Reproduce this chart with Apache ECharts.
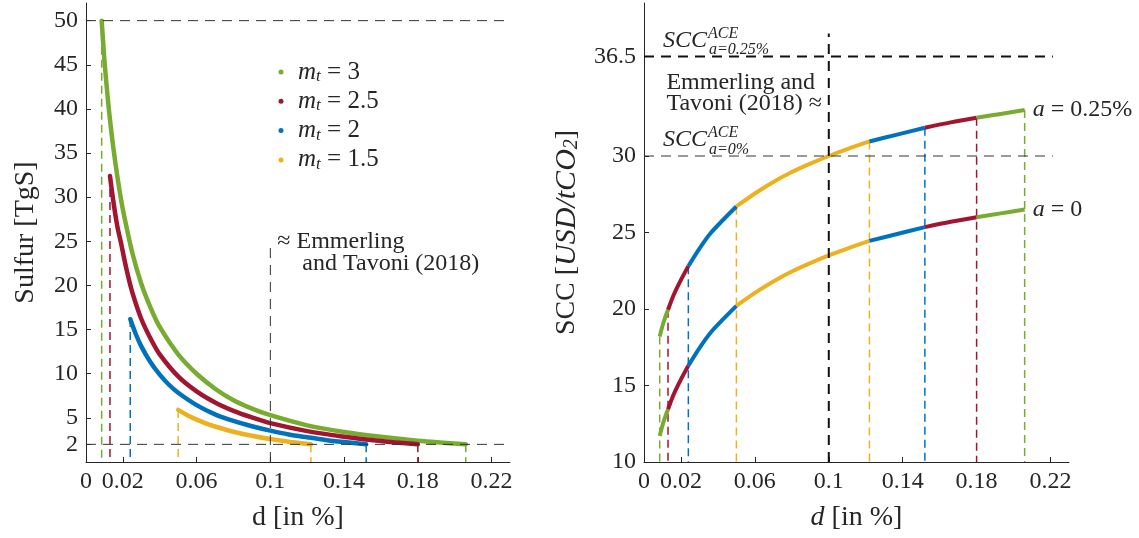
<!DOCTYPE html>
<html>
<head>
<meta charset="utf-8">
<script src="https://cdn.jsdelivr.net/npm/echarts@6/dist/echarts.min.js"></script>
<style>
  html, body { margin: 0; padding: 0; background: #ffffff; }
  #chart { width: 1139px; height: 538px; }
</style>
</head>
<body>
<div id="chart"></div>
<script>
// ---- data -------------------------------------------------------------
// Sulfur injection paths [d in %, Sulfur in TgS], one per m_t
const mtValues = ['3', '2.5', '2', '1.5'];
const sulfurMt3 = [[0.0085, 50], [0.010, 45.5], [0.012, 40.8], [0.014, 37.0], [0.016, 33.8], [0.018, 31.0],
  [0.020, 28.6], [0.025, 23.8], [0.030, 20.2], [0.035, 17.5], [0.040, 15.3], [0.050, 12.2], [0.060, 10.0],
  [0.070, 8.3], [0.080, 7.0], [0.090, 6.05], [0.100, 5.3], [0.120, 4.15], [0.140, 3.4], [0.160, 2.85],
  [0.180, 2.4], [0.206, 2.0]];
const sulfurMt25 = [[0.013, 32.4], [0.015, 29.3], [0.017, 26.7], [0.019, 24.8], [0.022, 21.8], [0.025, 19.3],
  [0.030, 16.2], [0.035, 14.0], [0.040, 12.2], [0.050, 9.7], [0.060, 8.0], [0.070, 6.75], [0.080, 5.8],
  [0.090, 5.05], [0.100, 4.4], [0.120, 3.5], [0.140, 2.87], [0.160, 2.38], [0.180, 2.0]];
const sulfurMt2 = [[0.024, 16.2], [0.027, 14.5], [0.030, 13.1], [0.035, 11.3], [0.040, 9.9], [0.045, 8.75],
  [0.050, 7.85], [0.060, 6.45], [0.070, 5.4], [0.080, 4.65], [0.090, 4.05], [0.100, 3.55], [0.110, 3.12],
  [0.120, 2.8], [0.130, 2.5], [0.140, 2.26], [0.152, 2.0]];
const sulfurMt15 = [[0.050, 5.9], [0.055, 5.3], [0.060, 4.8], [0.065, 4.38], [0.070, 4.02], [0.080, 3.43],
  [0.090, 2.97], [0.100, 2.6], [0.110, 2.3], [0.122, 2.0]];

// Social cost of carbon [d in %, USD/tCO2] for a = 0.25% and a = 0
const sccA025 = [[0.0085, 18.2], [0.0105, 19.1], [0.013, 19.95], [0.016, 20.9], [0.020, 21.9], [0.024, 22.8],
  [0.030, 23.95], [0.036, 24.95], [0.043, 25.85], [0.050, 26.7], [0.060, 27.55], [0.070, 28.3], [0.080, 28.95],
  [0.090, 29.5], [0.100, 30.0], [0.110, 30.45], [0.122, 30.95], [0.137, 31.4], [0.152, 31.85], [0.166, 32.2],
  [0.180, 32.5], [0.193, 32.75], [0.206, 33.0]];
const sccA0 = [[0.0085, 11.7], [0.0105, 12.6], [0.013, 13.45], [0.016, 14.4], [0.020, 15.4], [0.024, 16.3],
  [0.030, 17.45], [0.036, 18.45], [0.043, 19.35], [0.050, 20.2], [0.060, 21.05], [0.070, 21.8], [0.080, 22.45],
  [0.090, 23.0], [0.100, 23.5], [0.110, 23.95], [0.122, 24.45], [0.137, 24.9], [0.152, 25.35], [0.166, 25.7],
  [0.180, 26.0], [0.193, 26.25], [0.206, 26.5]];

// d ranges over which each m_t regime applies along the SCC curves
const regimeBreaks = [0.0085, 0.013, 0.024, 0.05, 0.122, 0.152, 0.18, 0.206];
const regimeMt = ['3', '2.5', '2', '1.5', '2', '2.5', '3'];

// reference levels
const sulfurLimits = [2, 50];
const sccAce = { a0: 30, a025: 36.5 };
const etDiscount = 0.1;          // Emmerling and Tavoni (2018)
const etSulfurTop = 24.5;
const etSccTop = 38;
const refLineEnd = 0.2213;

// ticks
const dTicks = [0, 0.02, 0.06, 0.1, 0.14, 0.18, 0.22];
const sulfurTicks = [2, 5, 10, 15, 20, 25, 30, 35, 40, 45, 50];
const sccTicks = [10, 15, 20, 25, 30, 36.5];

// ---- styling ----------------------------------------------------------
const SERIF = '"Liberation Serif", "DejaVu Serif", serif';
const INK = '#262626';
const mtColor = { '3': '#77AC30', '2.5': '#A2142F', '2': '#0072BD', '1.5': '#EDB120' };
const sulfurPaths = { '3': sulfurMt3, '2.5': sulfurMt25, '2': sulfurMt2, '1.5': sulfurMt15 };
const TICK_FONT = 24, NAME_FONT = 28;

function dAxis(gridIndex, italicD) {
  return {
    type: 'value', gridIndex, min: 0, max: 0.23,
    name: italicD ? '{i|d} [in %]' : 'd [in %]',
    nameLocation: 'middle', nameGap: 42,
    nameTextStyle: {
      fontFamily: SERIF, fontSize: NAME_FONT, color: INK,
      rich: { i: { fontFamily: SERIF, fontSize: NAME_FONT, fontStyle: 'italic', color: INK } }
    },
    axisLine: { show: true, onZero: false, lineStyle: { color: INK, width: 1 } },
    axisTick: { show: true, inside: true, length: 5, customValues: dTicks, lineStyle: { color: INK } },
    axisLabel: { customValues: dTicks, fontFamily: SERIF, fontSize: TICK_FONT, color: INK, margin: 8,
      formatter: v => String(v) },
    splitLine: { show: false }
  };
}

function valueAxis(gridIndex, min, max, ticks, name, nameGap, rich) {
  return {
    type: 'value', gridIndex, min, max,
    name, nameLocation: 'middle', nameGap,
    nameTextStyle: { fontFamily: SERIF, fontSize: NAME_FONT, color: INK, rich },
    axisLine: { show: true, onZero: false, lineStyle: { color: INK, width: 1 } },
    axisTick: { show: true, inside: true, length: 5, customValues: ticks, lineStyle: { color: INK } },
    axisLabel: { customValues: ticks, fontFamily: SERIF, fontSize: TICK_FONT, color: INK, margin: 8,
      formatter: v => String(v) },
    splitLine: { show: false }
  };
}

function segment(grid, data, color, width, dash, z, extra) {
  return Object.assign({
    type: 'line', xAxisIndex: grid, yAxisIndex: grid, data,
    symbol: 'none', silent: true, animation: false, z,
    lineStyle: { color, width, type: dash || 'solid', cap: 'butt' }
  }, extra || {});
}

const series = [];

// left: colored drop lines at the start and end of each path
mtValues.forEach(mt => {
  const p = sulfurPaths[mt];
  const first = p[0], last = p[p.length - 1];
  series.push(segment(0, [[first[0], first[1]], [first[0], 0]], mtColor[mt], 1.5, [8, 5], 1));
  series.push(segment(0, [[last[0], last[1]], [last[0], 0]], mtColor[mt], 1.5, [8, 5], 1));
});

// left: sulfur paths
mtValues.forEach(mt => {
  series.push(segment(0, sulfurPaths[mt], mtColor[mt], 4.5, 'solid', 3, {
    name: 'm_t = ' + mt, smooth: 0.3,
    lineStyle: { color: mtColor[mt], width: 4.5, cap: 'round', join: 'round' }, itemStyle: { color: mtColor[mt] }
  }));
});

// left: reference lines
series.push(segment(0, [[0, sulfurLimits[1]], [0.23, sulfurLimits[1]]], '#333333', 1, [10, 7], 5));
series.push(segment(0, [[0, sulfurLimits[0]], [0.23, sulfurLimits[0]]], '#333333', 1, [10, 7], 5));
series.push(segment(0, [[etDiscount, 0], [etDiscount, etSulfurTop]], '#333333', 1, [10, 7], 5));

// right: colored drop lines at each regime boundary
const dropColors = ['3', '2.5', '2', '1.5', '1.5', '2', '2.5', '3'];
regimeBreaks.forEach((d, i) => {
  const top = sccA025.find(p => p[0] === d)[1];
  series.push(segment(1, [[d, top], [d, 10]], mtColor[dropColors[i]], 1.5, [8, 5], 1));
});

// right: SCC curves split by regime
function addRegimeSegments(curve, label) {
  for (let i = 0; i < regimeMt.length; i++) {
    const lo = regimeBreaks[i], hi = regimeBreaks[i + 1];
    const pts = curve.filter(p => p[0] >= lo && p[0] <= hi);
    const color = mtColor[regimeMt[i]];
    const extra = { smooth: 0.3 };
    if (i === regimeMt.length - 1) {
      extra.endLabel = {
        show: true, distance: 8, formatter: label, color: INK,
        rich: {
          i: { fontFamily: SERIF, fontSize: 24, fontStyle: 'italic', color: INK },
          r: { fontFamily: SERIF, fontSize: 24, color: INK }
        }
      };
    }
    series.push(segment(1, pts, color, 4, 'solid', 3, extra));
  }
}
addRegimeSegments(sccA025, '{i|a}{r| = 0.25%}');
addRegimeSegments(sccA0, '{i|a}{r| = 0}');

// right: reference lines
series.push(segment(1, [[0, sccAce.a025], [refLineEnd, sccAce.a025]], '#111111', 2, [10, 7], 5));
series.push(segment(1, [[0, sccAce.a0], [refLineEnd, sccAce.a0]], '#333333', 1, [10, 7], 5));
series.push(segment(1, [[etDiscount, 10], [etDiscount, etSccTop]], '#111111', 2, [10, 7], 5));

const legendRich = {
  g: { width: 9.5 },
  m: { fontFamily: SERIF, fontSize: 25, fontStyle: 'italic', color: INK, lineHeight: 26, verticalAlign: 'middle' },
  t: { fontFamily: SERIF, fontSize: 17, fontStyle: 'italic', color: INK, lineHeight: 14, verticalAlign: 'bottom' },
  r: { fontFamily: SERIF, fontSize: 25, color: INK, lineHeight: 26, verticalAlign: 'middle' }
};

const option = {
  animation: false,
  backgroundColor: '#ffffff',
  grid: [
    { left: 86, right: 629, top: 3, bottom: 76 },
    { left: 644, right: 70, top: 3, bottom: 76 }
  ],
  xAxis: [dAxis(0, false), dAxis(1, true)],
  yAxis: [
    valueAxis(0, 0, 52, sulfurTicks, 'Sulfur [TgS]', 46, {}),
    valueAxis(1, 10, 40, sccTicks, 'SCC [{i|USD/tCO}{s|2}]', 62, {
      i: { fontFamily: SERIF, fontSize: 30, fontStyle: 'italic', color: INK, lineHeight: 30, verticalAlign: 'middle' },
      s: { fontFamily: SERIF, fontSize: 20, fontStyle: 'italic', color: INK, lineHeight: 16, verticalAlign: 'bottom' }
    })
  ],
  legend: {
    orient: 'vertical', left: 278.5, top: 59.5, padding: 0,
    itemWidth: 5, itemHeight: 5, itemGap: 3.8, icon: 'circle',
    data: mtValues.map(mt => 'm_t = ' + mt),
    formatter: name => '{g|}{m|m}{t|t}{r| = ' + name.split('= ')[1] + '}',
    textStyle: { rich: legendRich }
  },
  series
};

const chart = echarts.init(document.getElementById('chart'), null, { renderer: 'canvas' });
chart.setOption(option);

// ---- text annotations anchored to data coordinates --------------------
function txt(x, y, text, size, italic, align) {
  return {
    type: 'text', x, y, silent: true, z: 10,
    style: {
      text, fill: INK, fontFamily: SERIF, fontSize: size, fontStyle: italic ? 'italic' : 'normal',
      textAlign: align || 'left', textVerticalAlign: 'middle', align: align || 'left', verticalAlign: 'middle'
    }
  };
}
const etLeft = chart.convertToPixel({ gridIndex: 0 }, [etDiscount, etSulfurTop]);
const aceHi = chart.convertToPixel({ gridIndex: 1 }, [0, sccAce.a025]);
const aceLo = chart.convertToPixel({ gridIndex: 1 }, [0, sccAce.a0]);

const graphic = [
  txt(etLeft[0] + 7, etLeft[1] - 4, '\u2248 Emmerling', 24, false),
  txt(etLeft[0] + 32, etLeft[1] + 17.5, 'and Tavoni (2018)', 24, false),

  txt(aceHi[0] + 19, aceHi[1] - 15.5, 'SCC', 24, true),
  txt(aceHi[0] + 64, aceHi[1] - 23, 'ACE', 16, true),
  txt(aceHi[0] + 65, aceHi[1] - 7, 'a=0.25%', 16, true),
  txt(aceHi[0] + 22.4, aceHi[1] + 25.7, 'Emmerling and', 24, false),
  txt(aceHi[0] + 22.4, aceHi[1] + 47, 'Tavoni (2018) \u2248', 24, false),

  txt(aceLo[0] + 19, aceLo[1] - 16.7, 'SCC', 24, true),
  txt(aceLo[0] + 64, aceLo[1] - 23.7, 'ACE', 16, true),
  txt(aceLo[0] + 65, aceLo[1] - 6.7, 'a=0%', 16, true)
];
chart.setOption({ graphic });
</script>
</body>
</html>
